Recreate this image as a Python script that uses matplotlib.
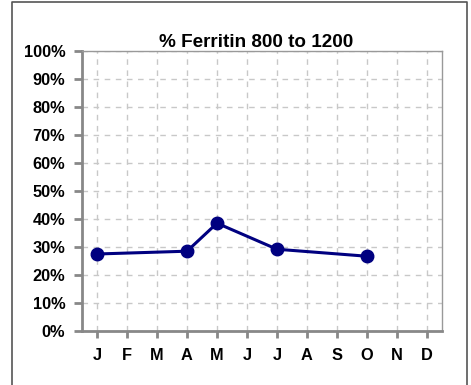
import matplotlib
matplotlib.use("Agg")
import matplotlib.pyplot as plt
from matplotlib.lines import Line2D
from matplotlib.ticker import FuncFormatter

months = ["J", "F", "M", "A", "M", "J", "J", "A", "S", "O", "N", "D"]
data_months = [0, 3, 4, 6, 9]
data_values = [27.5, 28.5, 38.5, 29.2, 26.7]
y_ticks = list(range(0, 101, 10))
title = "% Ferritin 800 to 1200"

plt.rcParams["font.family"] = ["Liberation Sans", "DejaVu Sans"]
plt.rcParams["font.weight"] = "bold"

W, H = 471, 385
fig = plt.figure(figsize=(W / 100, H / 100), dpi=100)
ax = fig.add_axes([82 / W, 1 - 331 / H, 360 / W, 280 / H])

grey = "#888888"
ax.plot(data_months, data_values, color="#000080", lw=2.2, marker="o",
        markersize=9, zorder=3, clip_on=False)

ax.set_xlim(-0.5, 11.5)
ax.set_ylim(0, 100)
ax.set_xticks(range(len(months)))
ax.set_xticklabels(months)
ax.set_yticks(y_ticks)
ax.yaxis.set_major_formatter(FuncFormatter(lambda v, p: f"{int(v)}%"))

ax.grid(True, color="#c8c8c8", linestyle=(0, (4, 4)), lw=1)
ax.set_axisbelow(True)

for side in ("left", "bottom"):
    ax.spines[side].set_color(grey)
    ax.spines[side].set_linewidth(2)
for side in ("top", "right"):
    ax.spines[side].set_color("#999999")
    ax.spines[side].set_linewidth(1)

ax.tick_params(axis="y", direction="out", length=6, width=2, color=grey,
               labelsize=11.8, pad=6)
ax.tick_params(axis="x", direction="out", length=5, width=2, color=grey,
               labelsize=11.8, pad=7)
for lab in ax.get_xticklabels() + ax.get_yticklabels():
    lab.set_fontweight("bold")

ax.set_title(title, fontsize=13.6, fontweight="bold", pad=3, x=0.485)

# outer frame (left, top, right)
fx = [12 / W, 12 / W, 467 / W, 467 / W]
fy = [0, 1 - 1.5 / H, 1 - 1.5 / H, 0]
fig.add_artist(Line2D(fx, fy, transform=fig.transFigure, color="#555555", lw=1.2))

fig.savefig("out.png", dpi=100)
